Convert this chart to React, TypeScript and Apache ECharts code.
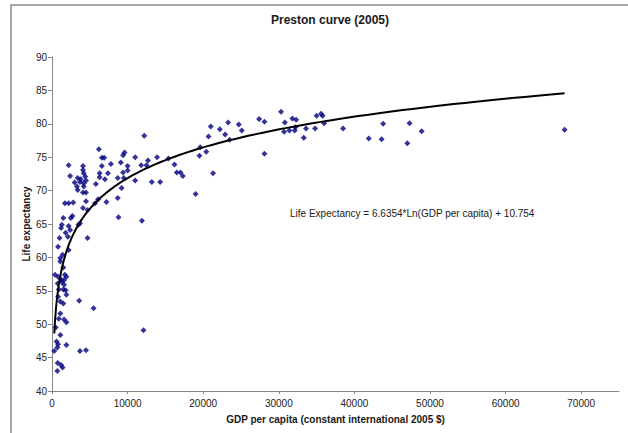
import React, { useEffect, useRef } from "react";
import * as echarts from "echarts";

const title = "Preston curve (2005)";
const xAxisName = "GDP per capita (constant international 2005 $)";
const yAxisName = "Life expectancy";
const equationText = "Life Expectancy = 6.6354*Ln(GDP per capita) + 10.754";
const trendSlope = 6.6354;
const trendIntercept = 10.754;

// GDP per capita (constant international 2005 $)
const gdp = [
  6200, 6600, 6900, 9600, 9400, 11000, 2200, 4100, 6600, 7800, 9100, 10000, 11800, 12500, 12700,
  4100, 4200, 2400, 6300, 7400, 9400, 10000, 3400, 3800, 4400, 6300, 7000, 8700, 9500, 3000,
  3700, 4200, 4500, 5800, 13200, 3300, 3400, 4200, 9200, 11000, 4100, 4500, 8700, 7200, 1700,
  2200, 2800, 4500, 5700, 6100, 4100, 4700, 1500, 2700, 2500, 8800, 11900, 1300, 1200, 2200,
  3700, 3500, 2400, 1800, 2100, 1000, 4700, 800, 2200, 1400, 1100, 1100, 1500, 400, 800,
  1200, 1700, 1900, 1600, 750, 1300, 1600, 900, 1500, 1800, 1900, 800, 1100, 1500, 3600,
  5500, 1100, 900, 1600, 1900, 500, 1100, 12100, 600, 800, 300, 700, 1900, 3700, 4500,
  750, 1200, 1400, 700, 12200, 30300, 27400, 28100, 31800, 32300, 30800, 21000, 23300, 24700, 22200,
  25100, 20700, 22900, 23500, 30700, 31400, 32100, 19600, 20400, 19500, 28100, 13900, 15400, 16200, 16500,
  17000, 17300, 21300, 14300, 19000, 35000, 35600, 35800, 32200, 33600, 34800, 36000, 33300, 38500, 43800,
  41900, 43600, 47300, 48900, 47000, 67800,
];

// Life expectancy (years)
const lifeExp = [
  76.2, 74.9, 74.9, 75.7, 75.3, 75.0, 73.8, 73.7, 73.7, 74.0, 74.2, 73.7, 73.8, 73.8, 74.5,
  73.1, 72.6, 72.2, 72.6, 72.6, 72.7, 73.0, 71.9, 71.7, 72.1, 72.0, 71.7, 71.9, 71.9, 71.2,
  71.3, 71.1, 71.5, 71.0, 71.3, 70.6, 70.1, 70.6, 70.4, 71.5, 69.7, 69.7, 68.9, 68.3, 68.1,
  68.1, 68.2, 68.4, 68.1, 68.7, 67.4, 67.1, 65.9, 66.2, 65.9, 66.0, 65.5, 64.9, 64.4, 64.7,
  65.1, 64.9, 64.1, 63.7, 63.1, 62.9, 62.9, 61.6, 61.1, 60.4, 59.9, 59.4, 58.5, 57.4, 57.1,
  56.7, 57.4, 57.1, 56.6, 56.1, 56.3, 55.9, 55.2, 55.2, 55.1, 54.4, 54.1, 53.4, 53.1, 53.5,
  52.4, 51.6, 50.8, 50.7, 50.3, 49.5, 48.4, 49.1, 47.4, 47.0, 46.0, 46.5, 46.9, 46.0, 46.1,
  44.2, 43.9, 43.5, 43.0, 78.2, 81.8, 80.7, 80.3, 80.8, 80.6, 80.2, 79.6, 80.2, 79.9, 79.2,
  79.0, 78.1, 78.4, 77.6, 78.8, 79.0, 79.0, 76.5, 75.8, 75.2, 75.5, 75.0, 74.8, 73.9, 72.7,
  72.7, 72.2, 72.6, 71.3, 69.5, 81.2, 81.5, 81.2, 79.5, 79.3, 79.3, 80.1, 77.9, 79.3, 80.0,
  77.8, 77.7, 80.1, 78.9, 77.1, 79.1,
];

const xTicks = { min: 0, max: 75000, interval: 10000 };
const yTicks = { min: 40, max: 90, interval: 5 };

export default function App() {
  const ref = useRef<HTMLDivElement>(null);

  useEffect(() => {
    if (!ref.current) return;
    const chart = echarts.init(ref.current, undefined, { renderer: "svg" });

    const points = gdp.map((g, i) => [g, lifeExp[i]]);
    const xMin = Math.min(...gdp);
    const xMax = Math.max(...gdp);
    const trend: number[][] = [];
    const steps = 200;
    for (let i = 0; i <= steps; i++) {
      const x = Math.exp(Math.log(xMin) + ((Math.log(xMax) - Math.log(xMin)) * i) / steps);
      trend.push([x, trendSlope * Math.log(x) + trendIntercept]);
    }

    const font = "'Liberation Sans', Arial, sans-serif";
    const axisLine = { show: true, lineStyle: { color: "#868686", width: 1 } };

    chart.setOption({
      animation: false,
      backgroundColor: "#ffffff",
      textStyle: { fontFamily: font },
      grid: { left: 52, right: 9, top: 57, bottom: 42, containLabel: false },
      xAxis: {
        type: "value",
        min: xTicks.min,
        max: xTicks.max,
        interval: xTicks.interval,
        name: xAxisName,
        nameLocation: "middle",
        nameGap: 23,
        nameMoveOverlap: false,
        nameTextStyle: { fontFamily: font, fontSize: 10, fontWeight: "bold", color: "#1a1a1a" },
        axisLine,
        axisTick: { show: true, inside: false, length: 3, lineStyle: { color: "#868686" } },
        axisLabel: {
          fontFamily: font,
          fontSize: 10,
          color: "#222222",
          margin: 7,
          showMaxLabel: false,
          formatter: (v: number) => String(v),
        },
        splitLine: { show: false },
      },
      yAxis: {
        type: "value",
        min: yTicks.min,
        max: yTicks.max,
        interval: yTicks.interval,
        name: yAxisName,
        nameLocation: "middle",
        nameGap: 21,
        nameMoveOverlap: false,
        nameRotate: 90,
        nameTextStyle: { fontFamily: font, fontSize: 10, fontWeight: "bold", color: "#1a1a1a" },
        axisLine,
        axisTick: { show: true, inside: false, length: 4, lineStyle: { color: "#868686" } },
        axisLabel: { fontFamily: font, fontSize: 10, color: "#222222", margin: 5 },
        splitLine: { show: false },
      },
      graphic: [
        {
          type: "polyline",
          shape: { points: [[11, 440], [11, 5], [640, 5]] },
          style: { fill: "none", stroke: "#8a8a8a", lineWidth: 1.5 },
          silent: true,
          z: -10,
        },
        {
          type: "text",
          x: 330,
          y: 20,
          style: {
            text: title,
            fontFamily: font,
            fontSize: 12,
            fontWeight: "bold",
            fill: "#1a1a1a",
            align: "center",
            verticalAlign: "middle",
          },
        },
        {
          type: "text",
          x: 290,
          y: 213,
          style: {
            text: equationText,
            fontFamily: font,
            fontSize: 10,
            fill: "#1a1a1a",
            align: "left",
            verticalAlign: "middle",
          },
        },
      ],
      series: [
        {
          type: "scatter",
          data: points,
          symbol: "diamond",
          symbolSize: 6,
          itemStyle: { color: "#000080" },
          z: 2,
        },
        {
          type: "line",
          data: trend,
          showSymbol: false,
          symbol: "none",
          smooth: false,
          lineStyle: { color: "#000000", width: 2 },
          z: 3,
        },
      ],
    });

    return () => chart.dispose();
  }, []);

  return (
    <div
      ref={ref}
      style={{ position: "fixed", left: 0, top: 0, width: 628, height: 433 }}
    />
  );
}
